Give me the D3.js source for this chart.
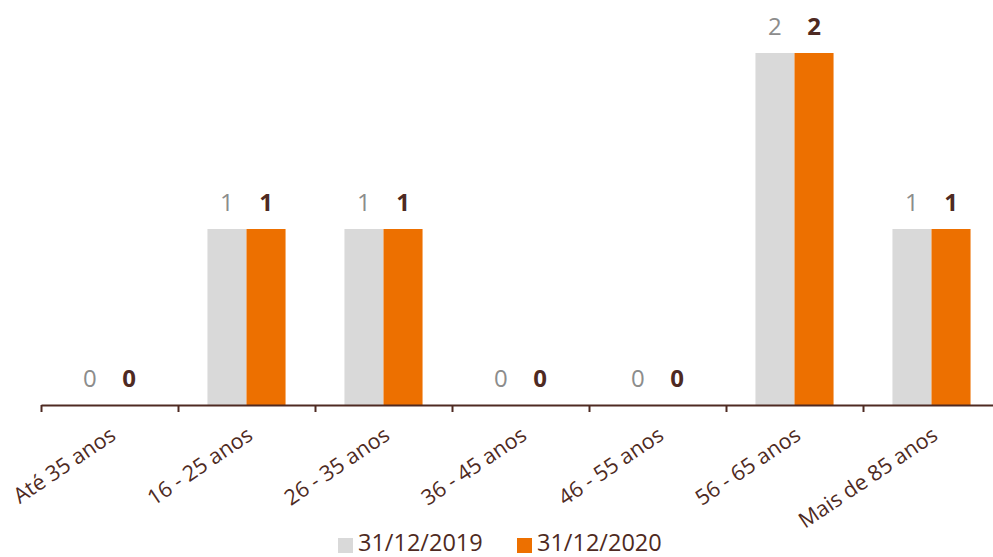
<!DOCTYPE html>
<html>
<head>
<meta charset="utf-8">
<script src="https://cdn.jsdelivr.net/npm/d3@7"></script>
<style>
  body { margin: 0; background: #fff; }
  svg { display: block; font-family: "Open Sans", sans-serif; }
</style>
</head>
<body>
<svg id="chart" width="993" height="557"></svg>
<script>
const categories = ["Até 35 anos", "16 - 25 anos", "26 - 35 anos", "36 - 45 anos", "46 - 55 anos", "56 - 65 anos", "Mais de 85 anos"];
const seriesNames = ["31/12/2019", "31/12/2020"];
const values2019 = [0, 1, 1, 0, 0, 2, 1];
const values2020 = [0, 1, 1, 0, 0, 2, 1];

const colors = ["#d9d9d9", "#ed7000"];
const labelColors = ["#8c8c8c", "#4e2a22"];
const textColor = "#4e2a22";

const svg = d3.select("#chart");

const data = categories.map((c, i) => ({ cat: c, vals: [values2019[i], values2020[i]] }));

const x0 = d3.scaleBand()
  .domain(categories)
  .range([41, 1000])
  .paddingInner(0.43)
  .paddingOuter(0.215);

const x1 = d3.scaleBand()
  .domain([0, 1])
  .range([0, x0.bandwidth()]);

const y = d3.scaleLinear().domain([0, 2]).range([405, 53]);

// bars
const groups = svg.selectAll("g.group")
  .data(data)
  .enter()
  .append("g")
  .attr("class", "group")
  .attr("transform", d => `translate(${x0(d.cat)},0)`);

groups.selectAll("rect")
  .data(d => d.vals.map((v, k) => ({ k, v })))
  .enter()
  .append("rect")
  .attr("x", d => x1(d.k))
  .attr("y", d => y(d.v))
  .attr("width", x1.bandwidth())
  .attr("height", d => y(0) - y(d.v))
  .attr("fill", d => colors[d.k]);

groups.selectAll("text")
  .data(d => d.vals.map((v, k) => ({ k, v })))
  .enter()
  .append("text")
  .attr("x", d => x1(d.k) + x1.bandwidth() / 2)
  .attr("y", d => y(d.v) - 18)
  .attr("text-anchor", "middle")
  .attr("font-size", 24)
  .attr("font-weight", d => d.k === 1 ? "bold" : "normal")
  .attr("fill", d => labelColors[d.k])
  .text(d => d.v);

// axis line with boundary ticks
const edges = d3.scaleLinear().domain([0, categories.length]).range([41, 1000]);
const tickAxis = svg.append("g")
  .attr("transform", `translate(0,${y(0)})`)
  .call(d3.axisBottom(edges).tickValues(d3.range(0, categories.length + 1)).tickFormat("").tickSize(7).tickSizeOuter(0));
tickAxis.selectAll("line, path").attr("stroke", textColor).attr("stroke-width", 2);

// category labels
const labelAxis = svg.append("g")
  .attr("transform", `translate(0,${y(0)})`)
  .call(d3.axisBottom(x0).tickSize(0));
labelAxis.select(".domain").remove();
labelAxis.selectAll("text")
  .attr("font-family", "Open Sans, sans-serif")
  .attr("font-size", 21.5)
  .attr("fill", textColor)
  .attr("text-anchor", "end")
  .attr("dx", 0)
  .attr("dy", 0)
  .attr("transform", "translate(6,31) rotate(-34)");

// legend
const legend = svg.append("g").attr("transform", "translate(338,544)");
const legendX = d3.scaleOrdinal().domain(seriesNames).range([0, 179]);
const items = legend.selectAll("g")
  .data(seriesNames)
  .enter()
  .append("g")
  .attr("transform", d => `translate(${legendX(d)},0)`);
items.append("rect")
  .attr("x", 0).attr("y", -6).attr("width", 15).attr("height", 15)
  .attr("fill", (d, i) => colors[i]);
items.append("text")
  .attr("x", 20).attr("y", 7)
  .attr("font-size", 23.5)
  .attr("fill", textColor)
  .text(d => d);
</script>
</body>
</html>
